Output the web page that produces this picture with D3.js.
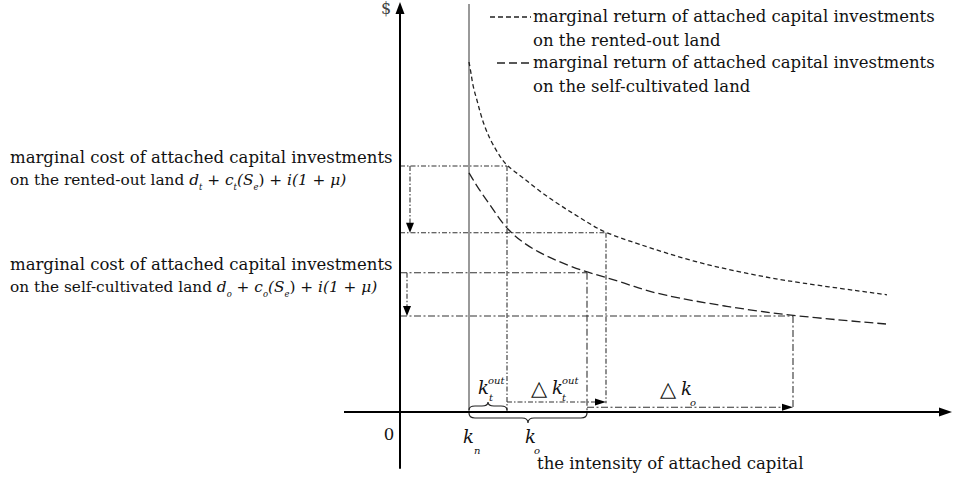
<!DOCTYPE html>
<meta charset="utf-8">
<style>
body { margin: 0; background: #fff; }
text { font-family: "DejaVu Serif", "Liberation Serif", serif; fill: #111; }
.axis { stroke: #000; stroke-width: 2; fill: none; }
.kline { stroke: #777; stroke-width: 1.5; }
.curve { fill: none; stroke: #222; stroke-width: 1.3; }
.guide { fill: none; stroke: #333; stroke-width: 1.1; }
.it { font-style: italic; }
</style>
<svg width="953" height="478"></svg>
<script src="https://d3js.org/d3.v7.min.js"></script>
<script>

// marginal return on the rented-out land (short dashes)
var rentedX = [1.38, 1.42, 1.46, 1.54, 1.60, 1.68, 1.76, 1.86, 2.00, 2.14, 2.44, 2.76, 3.10, 3.44, 3.76, 4.10, 4.70, 5.86, 7.06, 7.86, 9.74];
var rentedY = [8.75, 8.48, 8.13, 7.80, 7.50, 7.18, 6.93, 6.68, 6.38, 6.15, 5.88, 5.55, 5.25, 4.98, 4.73, 4.48, 4.23, 3.75, 3.43, 3.25, 2.93];

// marginal return on the self-cultivated land (long dashes)
var selfX = [1.38, 1.56, 1.76, 1.96, 2.16, 2.44, 2.76, 3.10, 3.70, 4.10, 4.70, 5.20, 6.54, 7.86, 9.72];
var selfY = [5.98, 5.60, 5.25, 4.88, 4.55, 4.25, 4.00, 3.80, 3.50, 3.38, 3.13, 2.93, 2.63, 2.40, 2.20];

// cost levels: [before, after]
var costRented = [6.15, 4.48];
var costSelf = [3.48, 2.40];

// capital intensities
var kN = 1.38;
var ktOut = [2.14, 4.12];   // k_t^out and k_t^out + Δk_t^out
var kO = [3.74, 7.86];      // k_o and k_o + Δk_o

var legendLines = [
  "marginal return of attached capital investments",
  "on the rented-out land",
  "marginal return of attached capital investments",
  "on the self-cultivated land"
];
var costTitle = "marginal cost of attached capital investments";
var costLeads = ["on the rented-out land ", "on the self-cultivated land "];

var svg = d3.select("svg");

var x = d3.scaleLinear().domain([0, 11]).range([400, 950]);
var y = d3.scaleLinear().domain([0, 10]).range([412, 12]);

// body font size: fit the cost title to the width it has in the original
var probe = svg.append("text").attr("font-size", 20).text(costTitle);
var fs = Math.round(20 * 382 / probe.node().getComputedTextLength() * 10) / 10;
probe.remove();

function pts(xs, ys) { return xs.map(function(v, i) { return [v, ys[i]]; }); }

var line = d3.line()
    .x(function(d) { return x(d[0]); })
    .y(function(d) { return y(d[1]); })
    .curve(d3.curveBasis);

function arrowHead(g, tipX, tipY, dir, len, half) {
  var p;
  if (dir == "right") p = [[tipX, tipY], [tipX - len, tipY - half], [tipX - len, tipY + half]];
  else if (dir == "down") p = [[tipX, tipY], [tipX - half, tipY - len], [tipX + half, tipY - len]];
  else p = [[tipX, tipY], [tipX - half, tipY + len], [tipX + half, tipY + len]];
  g.append("path").attr("d", "M" + p.join("L") + "Z").attr("fill", "#000");
}

function guide(x1, y1, x2, y2, dash, w) {
  svg.append("line").attr("class", "guide")
      .attr("x1", x(x1)).attr("y1", y(y1)).attr("x2", x(x2)).attr("y2", y(y2))
      .attr("stroke-dasharray", dash)
      .attr("stroke-width", w || 1.1);
}

var thin = "5,2,1.5,2", thick = "7,2.5,2,2.5";

// guide lines for rented-out land
guide(0, costRented[0], ktOut[0], costRented[0], thin);
guide(ktOut[0], costRented[0], ktOut[0], 0, thin);
guide(0, costRented[1], ktOut[1], costRented[1], thin);
guide(ktOut[1], costRented[1], ktOut[1], 0.22, thin);

// guide lines for self-cultivated land
guide(0, costSelf[0], kO[0], costSelf[0], thick, 1.3);
guide(kO[0], costSelf[0], kO[0], 0, thick, 1.3);
guide(0, costSelf[1], kO[1], costSelf[1], thick, 1.3);
guide(kO[1], costSelf[1], kO[1], 0.12, thick, 1.3);

// downward shift arrows on the cost side
guide(0.2, costRented[0], 0.2, costRented[1] + 0.15, thin);
arrowHead(svg, x(0.2), y(costRented[1]), "down", 10, 4);
guide(0.14, costSelf[0], 0.14, costSelf[1] + 0.15, thin);
arrowHead(svg, x(0.14), y(costSelf[1]), "down", 10, 4);

// Δ arrows along the axis
guide(ktOut[0], 0.25, ktOut[1] - 0.15, 0.25, thin);
arrowHead(svg, x(ktOut[1]), y(0.25), "right", 11, 3.5);
guide(kO[0], 0.12, kO[1] - 0.15, 0.12, thick);
arrowHead(svg, x(kO[1]), y(0.12), "right", 11, 3.5);

// k_n vertical line
svg.append("line").attr("class", "kline")
    .attr("x1", x(kN)).attr("x2", x(kN)).attr("y1", y(10.2)).attr("y2", y(0));

// curves
svg.append("path").attr("class", "curve")
    .attr("d", line(pts(rentedX, rentedY)))
    .attr("stroke-dasharray", "4.5,3");
svg.append("path").attr("class", "curve")
    .attr("d", line(pts(selfX, selfY)))
    .attr("stroke-dasharray", "9,4")
    .attr("stroke-width", 1.4);

// axes
svg.append("line").attr("class", "axis")
    .attr("x1", x(-1.12)).attr("x2", x(10.8)).attr("y1", y(0)).attr("y2", y(0));
arrowHead(svg, x(11.04), y(0), "right", 13, 4.5);
svg.append("line").attr("class", "axis")
    .attr("x1", x(0)).attr("x2", x(0)).attr("y1", y(-1.42)).attr("y2", y(10));
arrowHead(svg, x(0), y(10.25), "up", 12, 4.5);

// braces
function brace(x0, x1, yy, dir, h) {
  var r = Math.min(6, (x1 - x0) / 4), m = (x0 + x1) / 2, b = yy + dir * h / 2, t = yy + dir * h;
  var d = "M" + x0 + "," + yy +
      "Q" + x0 + "," + b + " " + (x0 + r) + "," + b +
      "L" + (m - r) + "," + b +
      "Q" + m + "," + b + " " + m + "," + t +
      "Q" + m + "," + b + " " + (m + r) + "," + b +
      "L" + (x1 - r) + "," + b +
      "Q" + x1 + "," + b + " " + x1 + "," + yy;
  svg.append("path").attr("d", d).attr("fill", "none").attr("stroke", "#222").attr("stroke-width", 1.2);
}
brace(x(kN), x(kO[0]), 413, 1, 10);
brace(x(kN), x(ktOut[0]), 410, -1, 8);

// text helpers
function txt(s, px, py, size, cls, anchor) {
  return svg.append("text").attr("x", px).attr("y", py)
      .attr("font-size", size).attr("class", cls || null)
      .attr("text-anchor", anchor || "start").text(s);
}
function labelWithFormula(px, py, size, lead, parts) {
  var t = svg.append("text").attr("x", px).attr("y", py).attr("font-size", size);
  t.append("tspan").text(lead);
  parts.forEach(function(p) {
    var s = t.append("tspan").text(p.t);
    if (p.i) s.attr("font-style", "italic");
    if (p.sub) s.attr("font-size", size * 0.55).attr("font-style", "italic").attr("dy", 5);
    if (p.back) s.attr("dy", -5);
  });
}

// legend: line samples and text
svg.append("line").attr("class", "curve").attr("x1", 490).attr("x2", 531)
    .attr("y1", 17).attr("y2", 17).attr("stroke-dasharray", "5,3").attr("stroke-width", 1.2);
txt(legendLines[0], 533, 22, fs);
txt(legendLines[1], 533, 46, fs);
svg.append("line").attr("class", "curve").attr("x1", 497).attr("x2", 531)
    .attr("y1", 63).attr("y2", 63).attr("stroke-dasharray", "8,4").attr("stroke-width", 1.2);
txt(legendLines[2], 533, 68, fs);
txt(legendLines[3], 533, 92, fs);

// left labels
var formulaT = [
  {t: "d", i: true}, {t: "t", sub: true}, {t: " + ", back: true}, {t: "c", i: true},
  {t: "t", sub: true}, {t: "(S", i: true, back: true}, {t: "e", sub: true},
  {t: ") + ", back: true}, {t: "i(1 + \u03bc)", i: true}
];
var formulaO = [
  {t: "d", i: true}, {t: "o", sub: true}, {t: " + ", back: true}, {t: "c", i: true},
  {t: "o", sub: true}, {t: "(S", i: true, back: true}, {t: "e", sub: true},
  {t: ") + ", back: true}, {t: "i(1 + \u03bc)", i: true}
];
var fs2 = fs * 0.93;
txt(costTitle, 10, 163, fs);
labelWithFormula(10, 185, fs2, costLeads[0], formulaT);
txt(costTitle, 10, 270, fs);
labelWithFormula(10, 292, fs2, costLeads[1], formulaO);

// axis labels
txt("$", 386, 14, 16, null, "middle").style("fill", "#444");
txt("0", 389, 440, fs, null, "middle");
txt("the intensity of attached capital", 537, 469, fs);

// k labels
var kfs = 18, sfs = 10;
txt("k", x(kN) - 6, 443, kfs, "it");
txt("n", x(kN) + 5, 454, sfs, "it");
txt("k", x(kO[0]) - 62, 443, kfs, "it");
txt("o", x(kO[0]) - 53, 454, sfs, "it");

txt("k", 478, 394, kfs, "it");
txt("out", 488, 384, sfs, "it");
txt("t", 489, 401, sfs, "it");

txt("\u25b3", 531, 395, 21).style("font-family", "DejaVu Sans");
txt("k", 552, 394, kfs, "it");
txt("out", 562, 384, sfs, "it");
txt("t", 562, 401, sfs, "it");

txt("\u25b3", 660, 396, 21).style("font-family", "DejaVu Sans");
txt("k", 681, 395, kfs, "it");
txt("o", 690, 406, sfs, "it");

</script>
